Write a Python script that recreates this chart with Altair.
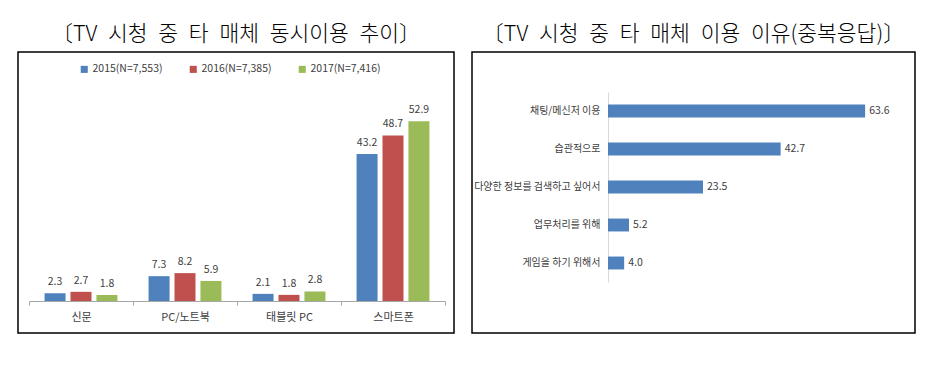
import altair as alt
import pandas as pd

# ---- data (left panel) ----
categories = ["신문", "PC/노트북", "태블릿 PC", "스마트폰"]
series = ["2015(N=7,553)", "2016(N=7,385)", "2017(N=7,416)"]
v2015 = [2.3, 7.3, 2.1, 43.2]
v2016 = [2.7, 8.2, 1.8, 48.7]
v2017 = [1.8, 5.9, 2.8, 52.9]
series_colors = ["#4F81BD", "#C0504D", "#9BBB59"]

# ---- data (right panel) ----
reasons = ["채팅/메신저 이용", "습관적으로", "다양한 정보를 검색하고 싶어서",
           "업무처리를 위해", "게임을 하기 위해서"]
reason_values = [63.6, 42.7, 23.5, 5.2, 4.0]

# titles (en spaces to mimic the wide word gaps of the original font)
title_left = "〔TV\u2002시청\u2002중\u2002타\u2002매체\u2002동시이용\u2002추이〕"
title_right = "〔TV\u2002시청\u2002중\u2002타\u2002매체\u2002이용\u2002이유(중복응답)〕"

rows = []
for s, vals in zip(series, [v2015, v2016, v2017]):
    for c, v in zip(categories, vals):
        rows.append({"category": c, "series": s, "value": v})
df1 = pd.DataFrame(rows)
df2 = pd.DataFrame({"reason": reasons, "value": reason_values})

FONT = "Noto Sans CJK KR"
TXT = "#404040"

x1 = alt.X("category:N", sort=categories, title=None,
           scale=alt.Scale(range=[11, 427], paddingInner=0, paddingOuter=0),
           axis=alt.Axis(orient="bottom", offset=-32, labelAngle=0, labelFontSize=11,
                         labelColor=TXT, labelFont=FONT, labelPadding=6,
                         tickBand="extent", tickSize=4, tickColor="#a6a6a6",
                         domainColor="#a6a6a6", grid=False))
xo = alt.XOffset("series:N", sort=series,
                 scale=alt.Scale(paddingInner=0.19, paddingOuter=0.6))
y1 = alt.Y("value:Q", scale=alt.Scale(domain=[0, 60], range=[249, 45]), axis=None)

bars1 = alt.Chart(df1).mark_bar().encode(
    x=x1, xOffset=xo, y=y1,
    color=alt.Color("series:N", sort=series,
                    scale=alt.Scale(domain=series, range=series_colors),
                    legend=alt.Legend(orient="none", legendX=61, legendY=12,
                                      direction="horizontal", title=None,
                                      symbolType="square", symbolSize=50,
                                      symbolStrokeWidth=0,
                                      labelFontSize=10.5, labelFont=FONT,
                                      labelColor=TXT, columnPadding=25,
                                      labelOffset=3)),
)
text1 = alt.Chart(df1).mark_text(baseline="bottom", dy=-6, fontSize=10.5,
                                 color=TXT, font=FONT).encode(
    x=x1, xOffset=xo, y=y1, text=alt.Text("value:Q", format=".1f"))

left = alt.layer(bars1, text1).properties(
    width=436, height=281,
    title=alt.TitleParams(text=title_left, fontSize=21.5, font=FONT,
                          fontWeight=300, anchor="middle", offset=7,
                          color="#000"))

y2 = alt.Y("reason:N", sort=reasons, title=None,
           scale=alt.Scale(range=[40, 230], paddingInner=0.66, paddingOuter=0.33),
           axis=alt.Axis(orient="left", offset=-136, ticks=False,
                         domainColor="#d9d9d9", labelFontSize=10, labelPadding=8,
                         labelColor=TXT, labelFont=FONT, labelLimit=0))
x2 = alt.X("value:Q", scale=alt.Scale(domain=[0, 70], range=[136, 419]), axis=None)

bars2 = alt.Chart(df2).mark_bar(color="#4F81BD").encode(x=x2, y=y2)
text2 = alt.Chart(df2).mark_text(align="left", dx=4, baseline="middle",
                                 fontSize=10.5, color=TXT, font=FONT).encode(
    x=x2, y=y2, text=alt.Text("value:Q", format=".1f"))

right = alt.layer(bars2, text2).properties(
    width=443, height=281,
    title=alt.TitleParams(text=title_right, fontSize=21.5, font=FONT,
                          fontWeight=300, anchor="middle", offset=7,
                          color="#000"))

chart = alt.hconcat(left, right, spacing=16).properties(
    padding={"left": 9, "top": 14, "right": 5, "bottom": 5},
    background="white",
).configure(
    font=FONT,
    view=alt.ViewConfig(stroke="#000", strokeWidth=1.5),
)

chart.save("out.html", embed_options={"renderer": "svg", "actions": False})
